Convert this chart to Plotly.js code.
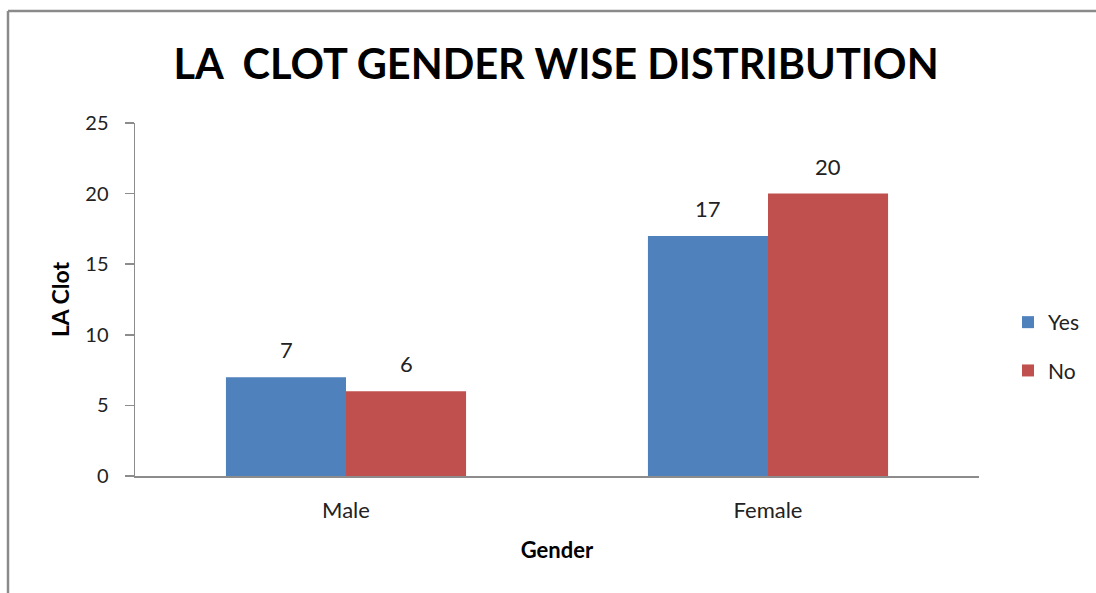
<!DOCTYPE html>
<html>
<head>
<meta charset="utf-8">
<script src="https://cdn.plot.ly/plotly-3.0.1.min.js"></script>
<style>
html,body{margin:0;padding:0;background:#fff;}
#chart{width:1096px;height:593px;}
</style>
</head>
<body>
<div id="chart"></div>
<script>
var categories = ["Male", "Female"];
var yesValues = [7, 17];
var noValues = [6, 20];
var seriesNames = ["Yes", "No"];
var yTicks = [0, 5, 10, 15, 20, 25];

var FONT = "Lato, 'Open Sans', sans-serif";
var seriesColors = ["#4F81BD", "#C0504D"];
var seriesValues = [yesValues, noValues];

var traces = seriesValues.map(function (vals, i) {
  return {
    type: "bar", name: seriesNames[i], x: categories, y: vals,
    marker: {color: seriesColors[i]},
    legendgroup: "g" + i, hoverinfo: "x+y"
  };
});

var plotL = 135, plotR = 979, plotT = 123, plotB = 476;
var pw = plotR - plotL, ph = plotB - plotT;
function px(x){ return (x - plotL) / pw; }
function py(y){ return (plotB - y) / ph; }

// data labels placed on the axes, shifted by half a bar width for each series in the group
var halfBar = 60;
var annotations = [];
seriesValues.forEach(function (vals, i) {
  vals.forEach(function (v, j) {
    annotations.push({
      x: categories[j], y: v, xref: "x", yref: "y",
      text: String(v), showarrow: false,
      xshift: (i === 0 ? -halfBar : halfBar), yshift: 12,
      xanchor: "center", yanchor: "bottom",
      font: {family: FONT, size: 22, color: "#222"}
    });
  });
});

var layout = {
  width: 1096, height: 593,
  margin: {l: plotL, r: 1096 - plotR, t: plotT, b: 593 - plotB, pad: 0},
  paper_bgcolor: "#fff", plot_bgcolor: "#fff",
  font: {family: FONT, color: "#222"},
  title: {
    text: "<b>LA  CLOT GENDER WISE DISTRIBUTION</b>",
    font: {family: FONT, size: 41.5, color: "#000"},
    x: 556 / 1096, xref: "container", xanchor: "center",
    y: 1 - 64 / 593, yref: "container", yanchor: "middle"
  },
  barmode: "group", bargap: 0.431, bargroupgap: 0,
  showlegend: true,
  legend: {
    xref: "container", yref: "container",
    x: 1008 / 1096, xanchor: "left", y: 1 - 302 / 593, yanchor: "top",
    font: {family: FONT, size: 21, color: "#222"},
    traceorder: "grouped", tracegroupgap: 18, itemwidth: 30,
    bgcolor: "rgba(0,0,0,0)"
  },
  annotations: annotations,
  xaxis: {
    type: "category", showline: true, linecolor: "#8c8c8c", linewidth: 1.5,
    ticks: "", showgrid: false, zeroline: false, automargin: false,
    tickfont: {family: FONT, size: 22, color: "#222"},
    ticklabelstandoff: 14,
    title: {text: "<b>Gender</b>", font: {family: FONT, size: 22, color: "#000"}, standoff: 20}
  },
  yaxis: {
    range: [0, 25], tickvals: yTicks, showline: true, linecolor: "#8c8c8c", linewidth: 1.5,
    ticks: "outside", ticklen: 9, tickcolor: "#8c8c8c", tickwidth: 1.5,
    showgrid: false, zeroline: false, automargin: false,
    tickfont: {family: FONT, size: 20, color: "#222"},
    ticklabelstandoff: 12,
    title: {text: "<b>LA Clot</b>", font: {family: FONT, size: 23, color: "#000"}, standoff: 9}
  },
  shapes: [
    {type: "line", xref: "paper", yref: "paper", x0: px(8), x1: px(8), y0: py(11), y1: py(600),
     line: {color: "#8a8a8a", width: 2.5}},
    {type: "line", xref: "paper", yref: "paper", x0: px(8), x1: px(1100), y0: py(11), y1: py(11),
     line: {color: "#8a8a8a", width: 2.5}}
  ]
};

Plotly.newPlot("chart", traces, layout, {displayModeBar: false, staticPlot: true});
</script>
</body>
</html>
